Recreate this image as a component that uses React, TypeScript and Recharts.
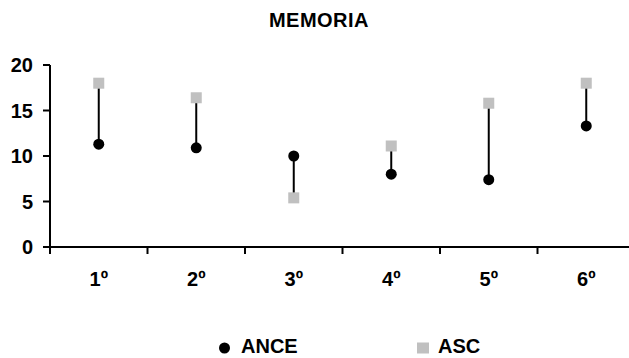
import { ComposedChart, Bar, Line, XAxis, YAxis, Legend } from "recharts";

const categories = ["1º", "2º", "3º", "4º", "5º", "6º"];
const anceValues = [11.3, 10.9, 10.0, 8.0, 7.4, 13.3];
const ascValues = [18.0, 16.4, 5.4, 11.1, 15.8, 18.0];
const yTicks = [0, 5, 10, 15, 20];

const rows = categories.map((cat, i) => ({
  cat,
  ance: anceValues[i],
  asc: ascValues[i],
}));

const FONT = '"Liberation Sans", Arial, sans-serif';

// vertical drop line between the two values
function DropLine(props: any) {
  const { x, y, width, height } = props;
  if (x == null || y == null) return null;
  const cx = x + width / 2;
  return <line x1={cx} y1={y} x2={cx} y2={y + height} stroke="#000" strokeWidth={2} />;
}

function Dot(props: any) {
  const { cx, cy } = props;
  if (cx == null || cy == null) return null;
  return <circle cx={cx} cy={cy} r={5.5} fill="#000" />;
}

function Square(props: any) {
  const { cx, cy } = props;
  if (cx == null || cy == null) return null;
  return <rect x={cx - 5.5} y={cy - 5.5} width={11} height={11} fill="#c0c0c0" />;
}

// category label plus a tick mark on the band boundary (Excel style)
function CatTick(props: any) {
  const { x, y, payload, index } = props;
  const half = payload.offset ?? 0;
  const axisY = y - 25;
  const last = index === categories.length - 1;
  return (
    <g>
      <line x1={x - half} y1={axisY} x2={x - half} y2={axisY + 7} stroke="#000" strokeWidth={2} />
      {last && (
        <line x1={x + half} y1={axisY} x2={x + half} y2={axisY + 7} stroke="#000" strokeWidth={2} />
      )}
      <text x={x} y={y} dy="0.71em" textAnchor="middle" fontSize={20} fontWeight="bold" fill="#000" fontFamily={FONT}>
        {payload.value}
      </text>
    </g>
  );
}

function LegendContent(props: any) {
  const items = (props.payload || []).filter((p: any) => p.value === "ANCE" || p.value === "ASC");
  const lefts: Record<string, number> = { ANCE: 219, ASC: 417 };
  return (
    <div style={{ position: "relative", width: 629, height: 23 }}>
      {items.map((it: any) => (
        <div
          key={it.value}
          style={{
            position: "absolute",
            left: lefts[it.value],
            top: 0,
            height: 23,
            lineHeight: "23px",
            whiteSpace: "nowrap",
            fontFamily: FONT,
            fontWeight: "bold",
            fontSize: 20,
            color: "#000",
          }}
        >
          <svg
            width={12}
            height={12}
            style={{ marginRight: it.value === "ANCE" ? 10 : 9, verticalAlign: "-1px" }}
          >
            {it.value === "ANCE" ? (
              <circle cx={5.5} cy={6} r={5.5} fill="#000" />
            ) : (
              <rect x={0} y={0.5} width={12} height={11} fill="#c0c0c0" />
            )}
          </svg>
          {it.value}
        </div>
      ))}
    </div>
  );
}

export default function App() {
  return (
    <div
      style={{
        position: "fixed",
        top: 0,
        left: 0,
        width: 629,
        height: 358,
        overflow: "hidden",
        background: "#fff",
        fontFamily: FONT,
      }}
    >
      <div
        style={{
          position: "absolute",
          top: 9.5,
          left: 0,
          width: 638,
          textAlign: "center",
          fontSize: 20,
          lineHeight: "20px",
          fontWeight: "bold",
          letterSpacing: 0.5,
          zIndex: 2,
        }}
      >
        MEMORIA
      </div>
      <ComposedChart
        width={660}
        height={358}
        data={rows}
        margin={{ top: 65, right: 25, bottom: 81, left: 0 }}
      >
        <XAxis
          dataKey="cat"
          height={30}
          axisLine={{ stroke: "#000", strokeWidth: 2 }}
          tickLine={false}
          tickSize={0}
          tickMargin={25}
          tick={<CatTick />}
          interval={0}
        />
        <YAxis
          domain={[0, 20]}
          ticks={yTicks}
          width={50}
          axisLine={{ stroke: "#000", strokeWidth: 2 }}
          tickLine={{ stroke: "#000", strokeWidth: 2 }}
          tickSize={7}
          tickMargin={10}
          tick={{ fontSize: 20, fontWeight: "bold", fill: "#000", fontFamily: FONT }}
          allowDataOverflow
        />
        <Bar
          dataKey={(d: any) => [Math.min(d.ance, d.asc), Math.max(d.ance, d.asc)]}
          shape={<DropLine />}
          legendType="none"
          isAnimationActive={false}
        />
        <Line
          dataKey="ance"
          name="ANCE"
          stroke="none"
          dot={<Dot />}
          activeDot={false}
          isAnimationActive={false}
        />
        <Line
          dataKey="asc"
          name="ASC"
          stroke="none"
          dot={<Square />}
          activeDot={false}
          isAnimationActive={false}
        />
        <Legend
          verticalAlign="middle"
          align="center"
          layout="horizontal"
          content={<LegendContent />}
          wrapperStyle={{ position: "absolute", top: 335, left: 0, width: 629, height: 23 }}
        />
      </ComposedChart>
    </div>
  );
}
